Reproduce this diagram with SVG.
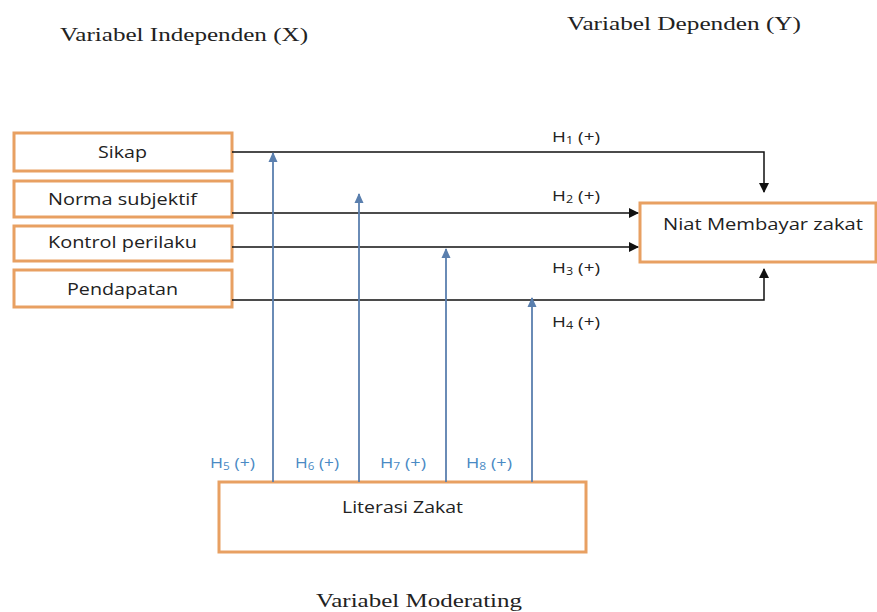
<svg xmlns="http://www.w3.org/2000/svg" width="877" height="612" viewBox="0 0 877 612">
<style>
.box{fill:#fff;stroke:#E8A062;stroke-width:3}
.bt{font-family:"Open Sans",sans-serif;font-size:17px;fill:#222}
.ttl{font-family:"Liberation Serif",serif;font-size:19px;fill:#222}
.hl{font-family:"Open Sans",sans-serif;font-size:15px;fill:#222}
.hb{font-family:"Open Sans",sans-serif;font-size:15px;fill:#4A8AC4}
.sub{font-size:10px}
.k{fill:none;stroke:#111;stroke-width:1.5}
.b{fill:none;stroke:#5A7FAE;stroke-width:1.8}
</style>
<defs>
<marker id="ak" markerWidth="10" markerHeight="10" refX="9" refY="5" orient="auto" markerUnits="userSpaceOnUse"><path d="M0,0 L10,5 L0,10 z" fill="#111"/></marker>
<marker id="ab" markerWidth="10" markerHeight="10" refX="9" refY="5" orient="auto" markerUnits="userSpaceOnUse"><path d="M0,0.5 L10,5 L0,9.5 z" fill="#5A7FAE"/></marker>
</defs>
<rect width="877" height="612" fill="#fff"/>
<text class="ttl" x="60" y="41" textLength="248" lengthAdjust="spacingAndGlyphs">Variabel Independen (X)</text>
<text class="ttl" x="567" y="30" textLength="234" lengthAdjust="spacingAndGlyphs">Variabel Dependen (Y)</text>
<text class="ttl" x="316" y="607" textLength="206" lengthAdjust="spacingAndGlyphs">Variabel Moderating</text>
<g id="sikap"><rect class="box" x="14" y="133" width="218" height="38"/><text class="bt" x="98" y="158" textLength="49" lengthAdjust="spacingAndGlyphs">Sikap</text></g>
<g id="norma"><rect class="box" x="14" y="181" width="218" height="36"/><text class="bt" x="48" y="205" textLength="149" lengthAdjust="spacingAndGlyphs">Norma subjektif</text></g>
<g id="kontrol"><rect class="box" x="14" y="226" width="218" height="35"/><text class="bt" x="48" y="248" textLength="149" lengthAdjust="spacingAndGlyphs">Kontrol perilaku</text></g>
<g id="pendapatan"><rect class="box" x="14" y="270" width="218" height="37"/><text class="bt" x="67" y="295" textLength="111" lengthAdjust="spacingAndGlyphs">Pendapatan</text></g>
<g id="niat"><rect class="box" x="640" y="203" width="236" height="59"/><text class="bt" x="663" y="230" textLength="200" lengthAdjust="spacingAndGlyphs">Niat Membayar zakat</text></g>
<g id="literasi"><rect class="box" x="219" y="482" width="367" height="70"/><text class="bt" x="342" y="513" textLength="121" lengthAdjust="spacingAndGlyphs">Literasi Zakat</text></g>
<g id="connectors">
<path class="k" d="M232,152 H764 V192" marker-end="url(#ak)"/>
<path class="k" d="M232,213 H638" marker-end="url(#ak)"/>
<path class="k" d="M232,247 H638" marker-end="url(#ak)"/>
<path class="k" d="M232,300 H764 V269" marker-end="url(#ak)"/>
<path class="b" d="M273,482 V153" marker-end="url(#ab)"/>
<path class="b" d="M359,482 V194" marker-end="url(#ab)"/>
<path class="b" d="M446,482 V249" marker-end="url(#ab)"/>
<path class="b" d="M532,482 V298" marker-end="url(#ab)"/>
</g>
<g id="labels">
<text class="hl" x="552" y="142" textLength="48" lengthAdjust="spacingAndGlyphs">H<tspan class="sub" dy="2">1</tspan><tspan dy="-2" dx="4">(+)</tspan></text>
<text class="hl" x="552" y="201" textLength="48" lengthAdjust="spacingAndGlyphs">H<tspan class="sub" dy="2">2</tspan><tspan dy="-2" dx="4">(+)</tspan></text>
<text class="hl" x="552" y="273" textLength="48" lengthAdjust="spacingAndGlyphs">H<tspan class="sub" dy="2">3</tspan><tspan dy="-2" dx="4">(+)</tspan></text>
<text class="hl" x="552" y="327" textLength="48" lengthAdjust="spacingAndGlyphs">H<tspan class="sub" dy="2">4</tspan><tspan dy="-2" dx="4">(+)</tspan></text>
<text class="hb" x="210" y="468" textLength="45" lengthAdjust="spacingAndGlyphs">H<tspan class="sub" dy="2">5</tspan><tspan dy="-2" dx="4">(+)</tspan></text>
<text class="hb" x="295" y="468" textLength="44" lengthAdjust="spacingAndGlyphs">H<tspan class="sub" dy="2">6</tspan><tspan dy="-2" dx="4">(+)</tspan></text>
<text class="hb" x="380" y="468" textLength="46" lengthAdjust="spacingAndGlyphs">H<tspan class="sub" dy="2">7</tspan><tspan dy="-2" dx="4">(+)</tspan></text>
<text class="hb" x="466" y="468" textLength="46" lengthAdjust="spacingAndGlyphs">H<tspan class="sub" dy="2">8</tspan><tspan dy="-2" dx="4">(+)</tspan></text>
</g>
</svg>
